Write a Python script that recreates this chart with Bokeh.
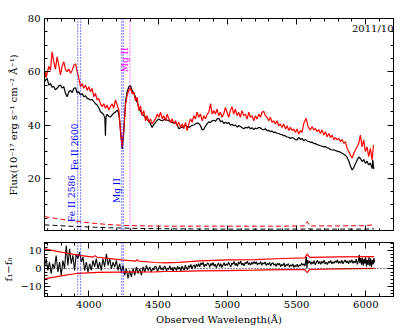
import math
from bokeh.plotting import figure
from bokeh.layouts import column
from bokeh.models import (Range1d, LinearAxis, SingleIntervalTicker, FixedTicker, Span, Label,
                          CustomJSTickFormatter)
from bokeh.embed import file_html
from bokeh.resources import INLINE

# ---------------- data ----------------
BLK_WL = [3680, 3690, 3699, 3711, 3723, 3735, 3747, 3759, 3771, 3783, 3795, 3807, 3819, 3831,
          3843, 3856, 3868, 3880, 3892, 3904, 3916, 3928, 3940, 3952, 3964, 3976, 3988, 4000,
          4012, 4024, 4036, 4048, 4060, 4072, 4084, 4096, 4108, 4116, 4120, 4124, 4132, 4144,
          4156, 4168, 4180, 4192, 4205, 4215, 4224, 4232, 4241, 4253, 4265, 4277, 4289, 4301,
          4313, 4325, 4337, 4349, 4361, 4373, 4385, 4397, 4409, 4421, 4433, 4445, 4457, 4470,
          4482, 4494, 4506, 4518, 4530, 4542, 4554, 4566, 4578, 4590, 4602, 4614, 4626, 4638,
          4650, 4662, 4674, 4686, 4698, 4710, 4722, 4734, 4746, 4758, 4770, 4782, 4794, 4806,
          4818, 4830, 4842, 4855, 4867, 4879, 4891, 4903, 4915, 4927, 4939, 4951, 4963, 4975,
          4987, 4999, 5011, 5023, 5035, 5047, 5059, 5071, 5083, 5095, 5107, 5119, 5131, 5143,
          5155, 5167, 5179, 5191, 5203, 5215, 5227, 5239, 5251, 5263, 5275, 5287, 5299, 5311,
          5323, 5335, 5347, 5359, 5371, 5383, 5395, 5407, 5420, 5432, 5444, 5456, 5468, 5480,
          5492, 5504, 5516, 5528, 5540, 5552, 5564, 5576, 5588, 5600, 5612, 5624, 5636, 5648,
          5660, 5672, 5684, 5697, 5709, 5721, 5733, 5745, 5757, 5769, 5781, 5793, 5805, 5817,
          5829, 5841, 5853, 5865, 5877, 5889, 5901, 5913, 5925, 5937, 5949, 5961, 5973, 5985,
          5997, 6009, 6021, 6033, 6046, 6050, 6058]
BLK_F = [56.3, 57.0, 57.5, 55.0, 55.6, 54.2, 54.5, 53.2, 53.8, 54.6, 55.0, 53.9, 54.4, 52.0,
         50.6, 52.5, 53.0, 52.2, 53.8, 54.0, 52.0, 52.5, 51.3, 51.8, 50.6, 51.0, 50.0, 49.8,
         49.4, 49.6, 48.8, 48.0, 47.5, 46.5, 45.0, 44.5, 43.8, 42.5, 36.0, 43.0, 44.0, 43.2,
         43.0, 43.8, 44.4, 44.8, 45.6, 44.5, 41.0, 36.0, 31.0, 37.5, 48.8, 52.5, 54.4, 54.8,
         52.9, 52.0, 50.4, 48.5, 46.6, 45.2, 44.1, 43.5, 42.9, 42.0, 41.6, 40.5, 39.1, 40.2,
         41.0, 41.8, 42.3, 41.8, 41.6, 42.0, 42.3, 41.8, 41.6, 41.2, 41.0, 40.8, 41.0, 40.0,
         38.6, 39.0, 39.1, 39.5, 39.8, 39.4, 39.1, 39.5, 39.8, 40.0, 40.4, 40.7, 40.6, 39.8,
         38.1, 38.4, 39.6, 40.5, 41.2, 41.0, 41.6, 41.8, 41.4, 42.3, 42.5, 41.2, 41.6, 40.6,
         41.0, 40.6, 40.9, 39.9, 40.3, 39.7, 40.0, 39.2, 39.8, 39.4, 39.0, 38.6, 39.1, 38.9,
         39.3, 38.6, 39.0, 38.3, 38.8, 38.6, 39.1, 38.9, 38.4, 38.2, 38.6, 37.9, 38.0, 37.5,
         37.7, 37.2, 37.3, 36.9, 36.8, 36.5, 36.4, 36.0, 35.9, 35.5, 35.4, 34.9, 35.3, 35.0,
         34.5, 34.4, 35.4, 34.6, 34.9, 34.1, 34.6, 34.0, 33.9, 33.5, 33.6, 33.0, 33.1, 32.6,
         32.5, 32.2, 32.1, 31.8, 31.9, 31.4, 31.3, 30.8, 30.6, 30.7, 30.4, 30.2, 30.0, 29.8,
         29.4, 29.0, 28.6, 27.8, 26.5, 24.6, 23.1, 24.0, 25.4, 26.8, 28.0, 27.4, 26.3, 27.0,
         25.6, 26.4, 25.0, 25.7, 23.6, 26.8, 23.4]

RED_WL = [3680, 3687, 3692, 3711, 3723, 3735, 3747, 3759, 3771, 3783, 3795, 3807, 3819, 3831,
          3843, 3855, 3868, 3880, 3892, 3904, 3916, 3928, 3940, 3952, 3964, 3976, 3988, 4000,
          4012, 4024, 4036, 4048, 4060, 4072, 4084, 4096, 4108, 4120, 4132, 4144, 4156, 4168,
          4180, 4192, 4205, 4217, 4229, 4241, 4253, 4265, 4277, 4289, 4301, 4313, 4325, 4337,
          4349, 4361, 4373, 4385, 4397, 4409, 4421, 4433, 4445, 4457, 4470, 4482, 4494, 4506,
          4518, 4530, 4542, 4554, 4566, 4578, 4590, 4602, 4614, 4626, 4638, 4650, 4662, 4674,
          4686, 4698, 4710, 4722, 4734, 4746, 4758, 4770, 4782, 4794, 4806, 4819, 4831, 4843,
          4855, 4867, 4879, 4891, 4903, 4914, 4926, 4938, 4950, 4962, 4974, 4986, 4998, 5010,
          5022, 5034, 5046, 5058, 5070, 5082, 5094, 5106, 5118, 5130, 5143, 5155, 5167, 5179,
          5191, 5203, 5215, 5227, 5239, 5251, 5263, 5275, 5287, 5299, 5311, 5323, 5335, 5347,
          5359, 5371, 5383, 5395, 5407, 5420, 5432, 5444, 5456, 5468, 5480, 5492, 5504, 5516,
          5528, 5540, 5552, 5569, 5583, 5600, 5612, 5624, 5636, 5648, 5660, 5672, 5684, 5697,
          5709, 5721, 5733, 5745, 5757, 5769, 5781, 5793, 5805, 5817, 5829, 5841, 5853, 5865,
          5877, 5889, 5901, 5913, 5925, 5937, 5949, 5961, 5973, 5985, 5997, 6009, 6021, 6033,
          6046, 6055]
RED_F = [57.5, 60.0, 58.0, 62.0, 60.6, 67.5, 63.8, 61.0, 65.6, 62.5, 58.8, 62.0, 63.8, 61.0,
         60.0, 61.0, 59.4, 60.6, 62.5, 63.0, 60.0, 57.5, 54.4, 55.6, 53.8, 55.0, 53.0, 54.4,
         52.5, 53.8, 50.6, 51.9, 49.4, 50.0, 48.0, 46.9, 48.0, 46.3, 47.5, 45.6, 46.9, 48.0,
         46.3, 49.4, 47.5, 45.6, 37.5, 31.9, 38.8, 47.5, 51.3, 53.0, 54.1, 51.7, 52.3, 49.1,
         50.4, 45.4, 47.2, 43.5, 45.4, 41.6, 43.5, 41.0, 42.3, 40.4, 41.5, 42.3, 44.1, 42.9,
         44.8, 42.3, 43.5, 41.6, 44.1, 42.3, 41.0, 42.3, 40.4, 41.6, 39.8, 41.0, 39.1, 40.4,
         38.6, 41.0, 37.9, 40.4, 42.3, 41.0, 43.5, 42.3, 44.8, 42.9, 44.1, 41.6, 43.5, 42.3,
         44.1, 44.8, 48.0, 44.1, 45.4, 44.1, 46.0, 43.5, 44.8, 42.9, 44.1, 46.6, 44.8, 42.9,
         45.4, 46.9, 44.1, 46.0, 43.5, 44.8, 42.9, 45.4, 43.5, 44.1, 42.2, 44.8, 42.9, 43.5,
         41.6, 43.5, 42.2, 44.1, 42.9, 44.8, 45.2, 43.5, 42.9, 41.6, 42.9, 41.0, 41.6, 40.4,
         41.6, 39.7, 40.4, 39.1, 40.4, 38.5, 39.7, 37.9, 39.1, 37.9, 38.5, 37.2, 38.5, 36.6,
         37.9, 37.2, 40.6, 42.5, 39.4, 38.1, 39.4, 38.1, 38.7, 37.5, 38.3, 36.8, 38.1, 36.2,
         37.5, 35.6, 36.8, 35.3, 36.2, 34.4, 35.3, 34.4, 35.0, 33.7, 34.6, 33.1, 33.7, 31.2,
         30.0, 28.7, 27.5, 29.3, 30.6, 31.8, 33.1, 36.2, 31.8, 34.4, 30.0, 31.8, 28.1, 31.2,
         26.9, 32.5]

ERR_WL = [3680, 3750, 3850, 3950, 4050, 4150, 4250, 4400, 4600, 5000, 5400, 5560, 5577, 5595,
          5800, 6000, 6060]
ERR_RED = [5.6, 5.0, 4.2, 3.6, 3.0, 2.6, 2.3, 2.1, 2.0, 2.0, 2.0, 2.1, 3.7, 2.1, 2.1, 2.2, 2.6]
ERR_BLK = [2.5, 2.3, 2.0, 1.8, 1.6, 1.4, 1.3, 1.1, 1.0, 0.9, 0.9, 0.9, 1.2, 0.9, 0.9, 0.9, 1.0]

DIFF_WL = [3680, 3692, 3704, 3716, 3728, 3740, 3752, 3764, 3777, 3789, 3801, 3813, 3825, 3837,
           3849, 3861, 3873, 3885, 3897, 3909, 3921, 3933, 3946, 3958, 3970, 3982, 3994, 4006,
           4018, 4030, 4042, 4054, 4066, 4078, 4090, 4102, 4114, 4127, 4139, 4151, 4163, 4175,
           4187, 4199, 4211, 4223, 4235, 4247, 4259, 4271, 4283, 4295, 4307, 4320, 4332, 4344,
           4356, 4368, 4380, 4392, 4404, 4416, 4428, 4440,
           4452, 4462, 4470, 4478, 4488, 4496, 4505, 4513, 4521, 4530, 4537, 4545, 4553, 4561,
           4569, 4577, 4585, 4593, 4601, 4609, 4617, 4625, 4633, 4641, 4649, 4657, 4665, 4673,
           4681, 4689, 4697, 4705, 4713, 4721, 4729, 4737, 4745, 4753, 4761, 4769, 4777, 4785,
           4793, 4801, 4809, 4817, 4825, 4833, 4841, 4849, 4857, 4865, 4873, 4881, 4889, 4897,
           4905, 4913, 4921, 4929, 4937, 4945, 4953, 4961, 4969, 4977, 4985, 4993, 5001, 5009,
           5017, 5025, 5033, 5041, 5049, 5057, 5065, 5073, 5081, 5089, 5097, 5105, 5113, 5121,
           5129, 5137, 5145, 5153, 5161, 5169, 5177, 5185, 5193, 5201, 5209, 5217, 5225, 5233,
           5241, 5249, 5257, 5265, 5273, 5281, 5289, 5297, 5305, 5313, 5321, 5329, 5337, 5345,
           5353, 5361, 5369, 5377, 5385, 5393, 5401, 5409, 5417, 5425, 5433, 5441, 5449, 5457,
           5465, 5473, 5481, 5489, 5497, 5505, 5513, 5521, 5529, 5537, 5545, 5553, 5561, 5567,
           5571, 5575, 5580, 5587, 5595, 5603, 5611, 5619, 5627, 5635, 5643, 5651, 5659, 5667,
           5675, 5683, 5691, 5699, 5707, 5715, 5723, 5731, 5739, 5747, 5755, 5763, 5771, 5779,
           5787, 5795, 5803, 5811, 5819, 5827, 5835, 5843, 5851, 5859, 5867, 5875, 5883, 5891,
           5899, 5907, 5915, 5923, 5931, 5939, 5947, 5953, 5957, 5963, 5969, 5975, 5981, 5987,
           5993, 5999, 6005, 6011, 6017, 6023, 6029, 6035, 6041, 6047, 6053, 6059, 6064]
DIFF_F = [0.9, 5.5, -1.0, 3.6, -2.8, 2.7, 0.0, 7.3, -1.9, 3.6, -3.7, 4.5, 0.0, 12.8,
          1.8, 11.0, 2.7, 7.3, -1.0, 8.2, 5.5, 9.2, 3.6, 6.4, -1.0, 3.6, -1.9, 2.7,
          -1.0, 4.5, 0.9, 5.5, 0.0, 3.6, -1.0, 5.5, 0.9, 8.2, 1.8, 5.5, 0.0, 3.6,
          0.9, 4.5, -1.0, 2.7, -1.9, 1.8, -3.7, 0.0, -5.5, -1.0, -4.6, 0.0, -3.7, 0.9,
          -2.8, 0.0, -3.7, 0.9, -1.9, 1.8, -1.0, 0.9,
          -1.9, 0.4, -0.8, 1.2, 0.9, -1.5, 0.2, 1.8, -0.6, 0.5, -1.0, 1.4, 0.9, -1.2,
          0.3, -0.4, 1.6, -0.8, 0.6, -1.6, 0.9, 0.1, -1.1, 1.3, -0.3, 0.8, -1.4, 1.5,
          0.2, -0.9, 1.9, 0.4, -0.5, 1.7, 0.6, 2.3, -0.2, 1.4, 2.0, 0.3, 2.5, 1.1,
          2.8, 1.0, 3.2, 2.1, 3.6, 0.9, 2.4, 1.5, 3.1, 2.6, 0.7, 2.9, 1.8, 3.4,
          1.2, 2.5, 0.4, 2.2, 3.0, 1.1, 2.7, 0.6, 2.0, 3.3, 1.4, 2.6, 1.9, 3.5,
          2.2, 1.0, 3.1, 2.4, 4.0, 1.8, 2.9, 1.3, 3.7, 2.5, 4.2, 2.0, 3.0, 1.6,
          3.5, 2.8, 4.1, 2.2, 3.3, 1.9, 3.6, 2.4, 4.0, 2.7, 3.8, 2.0, 3.1, 2.5,
          3.9, 1.8, 3.2, 2.6, 3.7, 1.7, 2.9, 2.2, 3.4, 1.5, 2.8, 3.3, 1.9, 2.6,
          1.2, 3.0, 2.1, 2.9, 1.0, 2.4, 1.6, 3.1, 0.9, 2.3, 1.7, 2.8, 0.8, 2.0,
          1.4, 2.6, 0.6, 1.9, 1.1, 2.4, 0.7, 2.1, 1.5, 3.0, 1.8, 2.6, 1.4, 5.0,
          6.5, 0.2, 4.8, 2.9, 4.3, 2.3, 3.8, 2.6, 4.4, 2.1, 3.5, 4.6, 2.7, 3.9,
          2.4, 4.1, 3.0, 4.7, 2.5, 3.6, 2.2, 4.0, 3.1, 4.5, 2.6, 3.8, 2.9, 4.4,
          3.3, 4.9, 2.8, 4.1, 3.0, 4.6, 2.7, 3.9, 4.8, 3.2, 4.3, 2.6, 4.5, 3.4,
          5.0, 2.9, 4.2, 3.1, 5.3, 2.4, 4.6, 7.7, 3.0, 5.8, 2.2, 6.0, 1.6, 5.5,
          2.7, 6.2, 1.2, 4.9, 2.0, 6.4, 1.5, 5.6, 0.9, 4.8, 2.4, 5.9, 3.4]

ENV_WL = [3680, 3800, 3920, 4030, 4045, 4060, 4235, 4340, 4350, 4360, 4480, 4550, 4650, 4800,
          5000, 5200, 5400, 5560, 5577, 5595, 5800, 6060]
ENV_UP = [11.0, 9.2, 7.5, 6.4, 7.2, 6.3, 4.9, 4.2, 5.0, 4.1, 3.4, 3.2, 3.5, 4.3,
          4.8, 5.0, 5.6, 6.0, 8.0, 6.2, 6.5, 6.6]
ENV_LO = [-5.7, -4.0, -2.6, -2.2, -2.2, -2.1, -2.0, -1.9, -1.9, -1.9, -1.8, -1.6, -1.5, -1.3,
          -1.1, -0.9, -0.6, -0.5, -2.3, -0.5, -0.2, 0.1]

FE_LINES = [3920, 3941]
FE_NAMES = ["Fe II 2586", "Fe II 2600"]
MG_ABS_LINES = [4238, 4249]
MG_EM_LINE = 4297
EPOCH = "2011/10"

X_RANGE = (3680, 6200)
Y_MAIN = (0, 80)
Y_MAIN_TICKS = [20, 40, 60, 80]
Y_DIFF = (-15.5, 14.5)

FONT = "DejaVu Serif"
BLUE = "#0000ff"
MAG = "#ff00ff"


def style_axis(ax, ticker, labels=True):
    ax.ticker = ticker
    ax.major_tick_in = 6
    ax.major_tick_out = 0
    ax.minor_tick_in = 3
    ax.minor_tick_out = 0
    ax.axis_line_color = "black"
    ax.major_tick_line_color = "black"
    ax.minor_tick_line_color = "black"
    ax.major_label_text_font = FONT
    ax.major_label_text_font_size = "10px"
    ax.major_label_text_color = "black"
    ax.axis_label_text_font = FONT
    ax.axis_label_text_font_size = "10px"
    ax.axis_label_text_font_style = "normal"
    ax.axis_label_text_color = "black"
    ax.major_label_standoff = 4
    if not labels:
        ax.formatter = CustomJSTickFormatter(code="return ''")
        ax.major_label_standoff = 0
        ax.major_label_text_font_size = "0px"


def make_fig(ylim, fh, top, bottom):
    p = figure(frame_width=349, frame_height=fh,
               x_range=Range1d(*X_RANGE), y_range=Range1d(*ylim),
               output_backend="svg", toolbar_location=None,
               x_axis_location=None, y_axis_location=None,
               min_border_left=37, min_border_right=10,
               min_border_top=top, min_border_bottom=bottom)
    p.xgrid.visible = False
    p.ygrid.visible = False
    p.outline_line_color = "black"
    p.background_fill_color = "white"
    p.border_fill_color = "white"
    return p


def main_yticker():
    minors = [v for v in range(0, 81, 5) if v not in Y_MAIN_TICKS]
    return FixedTicker(ticks=Y_MAIN_TICKS, minor_ticks=minors)


# ---------------- main panel ----------------
p1 = make_fig(Y_MAIN, 213, 18, 0)
for loc, lab in (("left", True), ("right", False)):
    ax = LinearAxis()
    style_axis(ax, main_yticker(), lab)
    if lab:
        ax.axis_label = "Flux(10\u207b\u00b9\u2077 erg s\u207b\u00b9 cm\u207b\u00b2 \u00c5\u207b\u00b9)"
        ax.axis_label_standoff = 6
    p1.add_layout(ax, loc)
for loc in ("below", "above"):
    ax = LinearAxis()
    style_axis(ax, SingleIntervalTicker(interval=500, num_minor_ticks=5), False)
    p1.add_layout(ax, loc)

for wl in FE_LINES + MG_ABS_LINES:
    p1.add_layout(Span(location=wl, dimension="height", line_color=BLUE,
                       line_dash="1 2", line_width=1))
p1.add_layout(Span(location=MG_EM_LINE, dimension="height", line_color=MAG,
                   line_dash="1 2", line_width=1))

p1.line(ERR_WL, ERR_BLK, line_color="black", line_dash="5 3", line_width=1)
p1.line(ERR_WL, ERR_RED, line_color="red", line_dash="5 3", line_width=1)
p1.line(BLK_WL, BLK_F, line_color="black", line_width=1.2)
p1.line(RED_WL, RED_F, line_color="red", line_width=1.2)

for wl, name, ystart in zip(FE_LINES, FE_NAMES, (3.6, 23.0)):
    p1.add_layout(Label(x=wl, y=ystart, text=name, angle=math.pi / 2, x_offset=-1,
                        text_align="left", text_baseline="bottom",
                        text_font=FONT, text_font_size="9px", text_color=BLUE))
p1.add_layout(Label(x=MG_ABS_LINES[0], y=10.7, text="Mg II", angle=math.pi / 2,
                    text_align="left", text_baseline="bottom",
                    text_font=FONT, text_font_size="9px", text_color=BLUE))
p1.add_layout(Label(x=MG_EM_LINE, y=59.8, text="Mg II", angle=math.pi / 2,
                    text_align="left", text_baseline="bottom",
                    text_font=FONT, text_font_size="9px", text_color=MAG))
p1.add_layout(Label(x=X_RANGE[1], y=76.2, text=EPOCH, x_offset=0,
                    text_align="right", text_baseline="middle",
                    text_font=FONT, text_font_size="10px", text_color="black"))

# ---------------- difference panel ----------------
p2 = make_fig(Y_DIFF, 54, 11, 5)
for loc, lab in (("left", True), ("right", False)):
    ax = LinearAxis()
    style_axis(ax, SingleIntervalTicker(interval=10, num_minor_ticks=5), lab)
    if lab:
        ax.axis_label = "f\u2081\u2212f\u2080"
        ax.axis_label_standoff = 3
        ax.major_label_standoff = 3
    p2.add_layout(ax, loc)
for loc, lab in (("below", True), ("above", False)):
    ax = LinearAxis()
    style_axis(ax, SingleIntervalTicker(interval=500, num_minor_ticks=5), lab)
    if lab:
        ax.axis_label = "Observed Wavelength(\u00c5)"
        ax.axis_label_standoff = 3
    p2.add_layout(ax, loc)

for wl in FE_LINES + MG_ABS_LINES:
    p2.add_layout(Span(location=wl, dimension="height", line_color=BLUE,
                       line_dash="1 2", line_width=1))
p2.add_layout(Span(location=0, dimension="width", line_color="black",
                   line_dash="1 2", line_width=1))
p2.line(DIFF_WL, DIFF_F, line_color="black", line_width=1.1)
p2.line(ENV_WL, ENV_UP, line_color="red", line_width=1.2)
p2.line(ENV_WL, ENV_LO, line_color="red", line_width=1.2)

layout = column(p1, p2, spacing=0)
open("out.html", "w").write(file_html(layout, INLINE))
